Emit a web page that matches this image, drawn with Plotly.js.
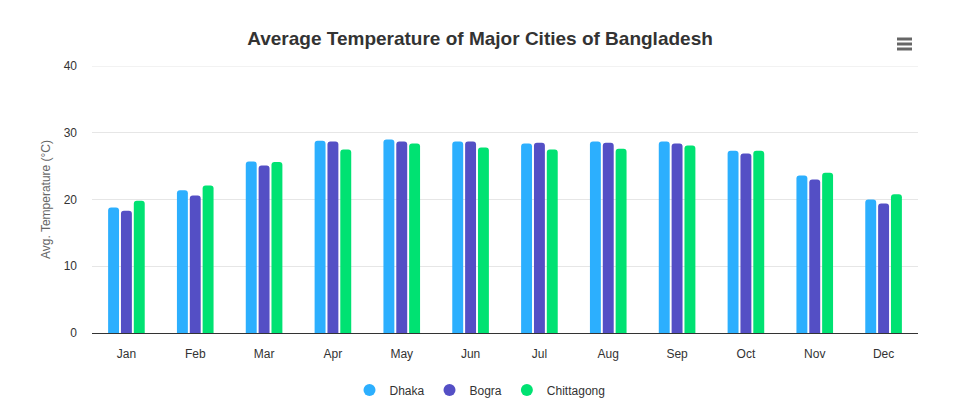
<!DOCTYPE html>
<html><head><meta charset="utf-8">
<script src="https://cdn.plot.ly/plotly-3.0.1.min.js"></script>
<style>html,body{margin:0;padding:0;background:#fff}#chart{width:960px;height:416px}</style>
</head><body><div id="chart"></div>
<script>
const months = ["Jan","Feb","Mar","Apr","May","Jun","Jul","Aug","Sep","Oct","Nov","Dec"];
const dhaka = [18.8,21.4,25.7,28.8,29.0,28.7,28.4,28.7,28.7,27.3,23.6,20.0];
const bogra = [18.3,20.6,25.1,28.7,28.7,28.7,28.5,28.5,28.4,26.9,23.0,19.4];
const chittagong = [19.8,22.1,25.6,27.5,28.4,27.8,27.5,27.6,28.1,27.3,24.0,20.8];
const seriesNames = ["Dhaka","Bogra","Chittagong"];
const colors = ["#2caffe","#544fc5","#00e272"];
const yTicks = [0,10,20,30,40];
const yMax = 40;

const font = "'Liberation Sans', Arial, Helvetica, sans-serif";
const data = [dhaka,bogra,chittagong].map((v,i)=>({
  type:'bar', name:seriesNames[i], x:months, y:v,
  marker:{color:colors[i]}, showlegend:false, hoverinfo:'x+y+name'
}));
seriesNames.forEach((n,i)=>data.push({
  type:'scatter', mode:'markers', name:n, x:[null], y:[null],
  marker:{color:colors[i], size:12, symbol:'circle'}, showlegend:true
}));

const L=92, R=918, T=66, B=333;
const px = v => (v-L)/(R-L);
const py = v => (B-v)/(B-T);
const shapes = [39,44,49].map(y=>({type:'line', xref:'paper', yref:'paper',
  x0:px(897), x1:px(912), y0:py(y), y1:py(y), line:{color:'#666', width:3}}));
shapes.push({type:'line', xref:'paper', yref:'y', x0:0, x1:1, y0:yMax, y1:yMax,
  line:{color:'#e6e6e6', width:1}, layer:'below'});

const layout = {
  width:960, height:416,
  margin:{l:L, r:960-R, t:T, b:416-B},
  paper_bgcolor:'#fff', plot_bgcolor:'#fff',
  font:{family:font, size:12, color:'#333'},
  title:{text:'<b>Average Temperature of Major Cities of Bangladesh</b>',
    font:{family:font, size:19, color:'#333'},
    x:0.5, xanchor:'center', xref:'container', y:1-38/416, yref:'container', yanchor:'middle'},
  barmode:'group', bargap:0.44, bargroupgap:0.15, barcornerradius:3,
  xaxis:{type:'category', showgrid:false, showline:true, linecolor:'#333', linewidth:1,
    ticks:'', tickfont:{size:12, color:'#333'}, ticklabelstandoff:10, fixedrange:true},
  yaxis:{range:[0,yMax], tickvals:yTicks, showgrid:true, gridcolor:'#e6e6e6', gridwidth:1,
    zeroline:false, showline:false, ticks:'', tickfont:{size:12, color:'#333'}, ticklabelstandoff:14,
    title:{text:'Avg. Temperature (°C)', font:{size:12, color:'#666'}, standoff:10}, fixedrange:true},
  legend:{orientation:'h', x:0.5, xanchor:'center', xref:'container', y:1-390/416, yref:'container', yanchor:'middle',
    font:{size:12, color:'#333'}, itemclick:false, itemdoubleclick:false, itemwidth:30, tracegroupgap:0},
  shapes:shapes
};
Plotly.newPlot('chart', data, layout, {displayModeBar:false});
</script></body></html>
